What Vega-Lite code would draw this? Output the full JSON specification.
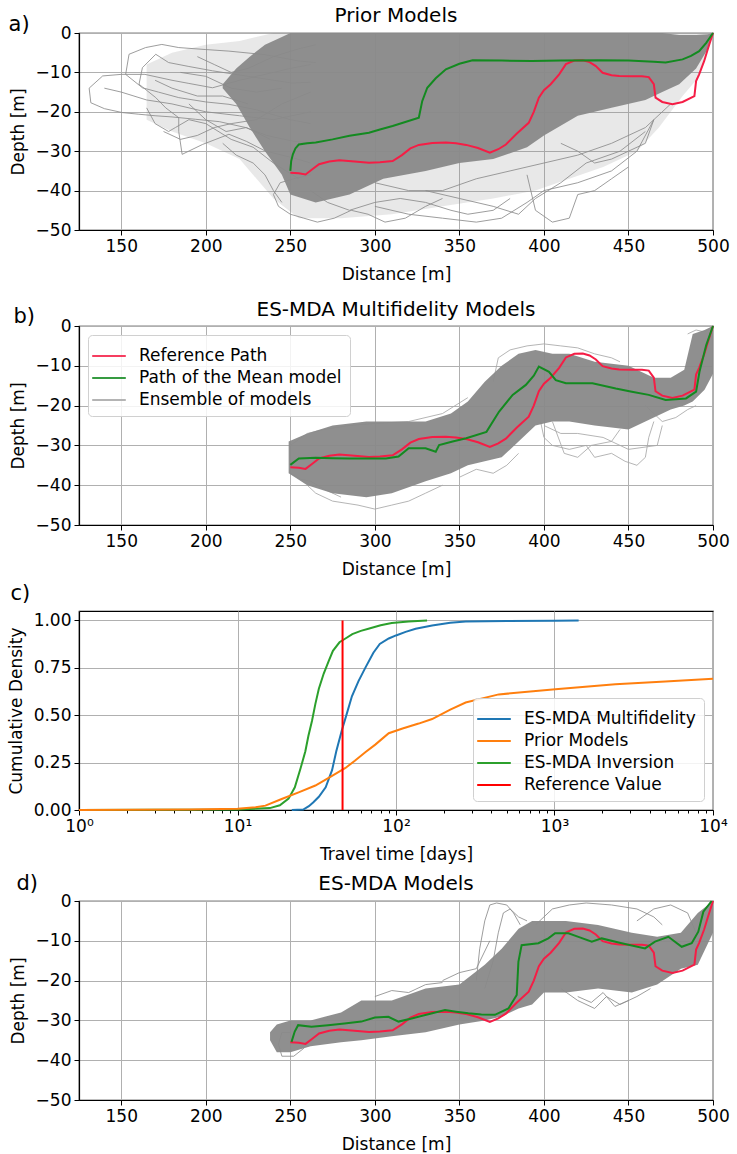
{
"$schema": "https://vega.github.io/schema/vega-lite/v6.json",
"padding": {"left": 6, "top": 5, "right": 5, "bottom": 0},
"spacing": 16,
"resolve": {"scale": {"color": "independent"}, "legend": {"color": "independent"}},
"config": {
  "font": "DejaVu Sans",
  "view": {"stroke": "#000", "strokeWidth": 1.2},
  "axis": {"domainColor": "#000", "domainWidth": 1.2, "tickColor": "#000", "tickSize": 5, "tickWidth": 1, "labelFontSize": 17, "labelColor": "#000", "labelPadding": 3, "titleFontSize": 17, "titleFontWeight": "normal", "titleColor": "#000", "gridColor": "#b0b0b0", "gridWidth": 1, "labelFlush": false, "labelOverlap": false},
  "axisX": {"titlePadding": 12},
  "axisY": {"titlePadding": 8},
  "title": {"fontSize": 20, "fontWeight": "normal", "color": "#000"},
  "legend": {"labelFontSize": 17, "labelColor": "#000", "labelLimit": 0, "symbolType": "M-1.4,0H1.4", "symbolStrokeWidth": 2, "symbolSize": 576, "fillColor": "rgba(255,255,255,0.85)", "strokeColor": "#d0d0d0", "cornerRadius": 4, "padding": 8, "rowPadding": 1, "labelOffset": 17, "offset": 9}
},
"datasets": {
  "ref": [
    {"x":250,"y":-35.5},{"x":255,"y":-35.6},{"x":259,"y":-35.9},{"x":263,"y":-34.6},{"x":267,"y":-33.3},{"x":273,"y":-32.6},{"x":279,"y":-32.3},{"x":288,"y":-32.6},{"x":296.5,"y":-32.9},{"x":303,"y":-32.8},{"x":310.5,"y":-32.5},{"x":316,"y":-31},{"x":321,"y":-29.3},{"x":326,"y":-28.4},{"x":334,"y":-27.9},{"x":342,"y":-27.8},{"x":348,"y":-28},{"x":354,"y":-28.4},{"x":361,"y":-29.2},{"x":368,"y":-30.4},{"x":373,"y":-29.5},{"x":377.5,"y":-28.3},{"x":384,"y":-25.5},{"x":391,"y":-22.8},{"x":394,"y":-20},{"x":397,"y":-16.4},{"x":400,"y":-14.5},{"x":404,"y":-13},{"x":409,"y":-10.5},{"x":413,"y":-7.9},{"x":418,"y":-7},{"x":423,"y":-6.9},{"x":427,"y":-7.4},{"x":430.7,"y":-8.4},{"x":434.7,"y":-10.1},{"x":440,"y":-10.7},{"x":444.5,"y":-10.9},{"x":452,"y":-11},{"x":458,"y":-11},{"x":462,"y":-11.2},{"x":465,"y":-13},{"x":466,"y":-16.4},{"x":470,"y":-17.5},{"x":476,"y":-18.1},{"x":482,"y":-17.5},{"x":489,"y":-16},{"x":490,"y":-12.2},{"x":491.8,"y":-10.5},{"x":494.8,"y":-7.1},{"x":497,"y":-4},{"x":500,"y":0}
  ],
  "meanA": [
    {"x":250,"y":-35},{"x":250.5,"y":-32.5},{"x":251.5,"y":-30.8},{"x":253,"y":-29.3},{"x":255,"y":-28.3},{"x":260,"y":-28},{"x":265,"y":-27.8},{"x":275,"y":-27},{"x":285,"y":-26.1},{"x":296.5,"y":-25.3},{"x":303,"y":-24.5},{"x":310.5,"y":-23.6},{"x":318,"y":-22.6},{"x":326,"y":-21.5},{"x":328,"y":-17.3},{"x":331,"y":-13.9},{"x":336,"y":-11.5},{"x":342,"y":-9.2},{"x":350,"y":-7.8},{"x":357.8,"y":-6.9},{"x":375,"y":-7},{"x":393,"y":-7.1},{"x":410,"y":-7},{"x":432.7,"y":-6.9},{"x":450,"y":-7},{"x":465,"y":-7.3},{"x":472,"y":-7.5},{"x":482,"y":-6.7},{"x":487,"y":-5.8},{"x":491.8,"y":-4.6},{"x":496,"y":-2.5},{"x":500,"y":0}
  ],
  "meanB": [
    {"x":250,"y":-34.9},{"x":255,"y":-33.3},{"x":265,"y":-33.1},{"x":275,"y":-33.2},{"x":285,"y":-33.3},{"x":295,"y":-33.3},{"x":306.5,"y":-33.3},{"x":314,"y":-32.8},{"x":320,"y":-30.7},{"x":330,"y":-30.7},{"x":336,"y":-31.6},{"x":338,"y":-29.9},{"x":346,"y":-29},{"x":354,"y":-28.2},{"x":366,"y":-26.6},{"x":373.5,"y":-21.5},{"x":381.5,"y":-17.3},{"x":389.3,"y":-14.8},{"x":394,"y":-12.5},{"x":397,"y":-10.2},{"x":403,"y":-11.5},{"x":407,"y":-13.6},{"x":413,"y":-14.4},{"x":428.7,"y":-14.4},{"x":442.5,"y":-15.7},{"x":452,"y":-16.5},{"x":462,"y":-17.3},{"x":472,"y":-18.6},{"x":484,"y":-18.2},{"x":490,"y":-16.5},{"x":492,"y":-11.5},{"x":496,"y":-4.8},{"x":500,"y":0}
  ],
  "meanD": [
    {"x":250.7,"y":-35.4},{"x":252.6,"y":-32.8},{"x":254.6,"y":-31.2},{"x":262.5,"y":-31.6},{"x":272.3,"y":-31.2},{"x":282,"y":-30.8},{"x":292,"y":-30.3},{"x":300,"y":-29.3},{"x":308,"y":-29.1},{"x":314,"y":-30.3},{"x":321.8,"y":-29.5},{"x":331,"y":-28.5},{"x":341.5,"y":-27.4},{"x":348,"y":-27.8},{"x":355.3,"y":-28.2},{"x":363,"y":-28.5},{"x":371,"y":-28.6},{"x":379,"y":-27},{"x":383.9,"y":-23.6},{"x":384.9,"y":-15.3},{"x":386.8,"y":-11.1},{"x":396.7,"y":-10.6},{"x":402.6,"y":-9.4},{"x":406.6,"y":-8.1},{"x":414.5,"y":-8.1},{"x":420.4,"y":-9},{"x":428.3,"y":-10.2},{"x":434.2,"y":-9.4},{"x":446,"y":-10.6},{"x":459.8,"y":-11.9},{"x":465.7,"y":-10.2},{"x":473.6,"y":-9},{"x":481.5,"y":-11.5},{"x":487.4,"y":-10.6},{"x":491.3,"y":-7.7},{"x":494.3,"y":-2.7},{"x":499.2,"y":0}
  ],
  "bandA": [
    {"k":"core","x":210,"y":-14,"y2":-13},{"k":"core","x":218,"y":-18,"y2":-9},{"k":"core","x":226,"y":-24,"y2":-6},{"k":"core","x":235,"y":-30,"y2":-3},{"k":"core","x":245,"y":-36,"y2":-1},{"k":"core","x":250,"y":-41,"y2":0},{"k":"core","x":265,"y":-43,"y2":0},{"k":"core","x":285,"y":-41,"y2":0},{"k":"core","x":305,"y":-37,"y2":0},{"k":"core","x":330,"y":-35,"y2":0},{"k":"core","x":350,"y":-33,"y2":0},{"k":"core","x":370,"y":-32,"y2":0},{"k":"core","x":390,"y":-29,"y2":0},{"k":"core","x":400,"y":-26,"y2":0},{"k":"core","x":420,"y":-21,"y2":0},{"k":"core","x":440,"y":-19,"y2":0},{"k":"core","x":460,"y":-17,"y2":0},{"k":"core","x":470,"y":-15,"y2":0},{"k":"core","x":480,"y":-13,"y2":-0.5},{"k":"core","x":490,"y":-9,"y2":-0.5},{"k":"core","x":497,"y":-4,"y2":-0.3},{"k":"core","x":500,"y":0,"y2":0},
    {"k":"light","x":165,"y":-22,"y2":-8},{"k":"light","x":180,"y":-25,"y2":-5},{"k":"light","x":200,"y":-28,"y2":-3},{"k":"light","x":220,"y":-32,"y2":-2},{"k":"light","x":240,"y":-42,"y2":0},{"k":"light","x":255,"y":-47,"y2":0},{"k":"light","x":280,"y":-47,"y2":0},{"k":"light","x":310,"y":-46,"y2":0},{"k":"light","x":340,"y":-44,"y2":0},{"k":"light","x":370,"y":-42,"y2":0},{"k":"light","x":395,"y":-40,"y2":0},{"k":"light","x":415,"y":-37,"y2":0},{"k":"light","x":435,"y":-34,"y2":0},{"k":"light","x":455,"y":-30,"y2":0},{"k":"light","x":468,"y":-24,"y2":0},{"k":"light","x":482,"y":-16,"y2":0},{"k":"light","x":492,"y":-11,"y2":0},{"k":"light","x":500,"y":0,"y2":0}
  ],
  "bandB": [
    {"x":249,"y":-37,"y2":-29},{"x":260,"y":-40,"y2":-27},{"x":275,"y":-42,"y2":-25},{"x":295,"y":-43,"y2":-24},{"x":310,"y":-42,"y2":-24},{"x":330,"y":-39,"y2":-24},{"x":345,"y":-37,"y2":-22},{"x":355,"y":-35,"y2":-19},{"x":365,"y":-34,"y2":-14},{"x":375,"y":-33,"y2":-10},{"x":385,"y":-29,"y2":-7},{"x":395,"y":-25,"y2":-6},{"x":405,"y":-24,"y2":-7},{"x":415,"y":-24,"y2":-7},{"x":430,"y":-25,"y2":-9},{"x":450,"y":-26,"y2":-10},{"x":465,"y":-23,"y2":-13},{"x":475,"y":-21,"y2":-13},{"x":483,"y":-20,"y2":-11},{"x":488,"y":-19,"y2":-2},{"x":495,"y":-16,"y2":-1},{"x":500,"y":-12,"y2":0}
  ],
  "bandD": [
    {"x":238,"y":-35,"y2":-33},{"x":242,"y":-38,"y2":-31},{"x":250,"y":-38,"y2":-30},{"x":262,"y":-36.5,"y2":-30},{"x":280,"y":-35.5,"y2":-28},{"x":292,"y":-35,"y2":-25},{"x":310,"y":-34,"y2":-25},{"x":330,"y":-33,"y2":-22},{"x":350,"y":-31,"y2":-21},{"x":365,"y":-30,"y2":-16},{"x":375,"y":-29,"y2":-12},{"x":385,"y":-27,"y2":-7},{"x":393,"y":-26,"y2":-5},{"x":400,"y":-23,"y2":-5},{"x":413,"y":-23,"y2":-5},{"x":432,"y":-22,"y2":-6},{"x":452,"y":-23,"y2":-8},{"x":467,"y":-21,"y2":-9},{"x":481,"y":-17,"y2":-8},{"x":491,"y":-16,"y2":-3},{"x":500,"y":-8,"y2":0}
  ],
  "ensA": [
    {"id":"A1","i":0,"x":262,"y":-8},{"id":"A1","i":1,"x":250,"y":-9},{"id":"A1","i":2,"x":240,"y":-10},{"id":"A1","i":3,"x":220,"y":-12},{"id":"A1","i":4,"x":204,"y":-13.9},{"id":"A1","i":5,"x":190,"y":-12.8},{"id":"A1","i":6,"x":180,"y":-12},{"id":"A1","i":7,"x":164,"y":-10.5},{"id":"A1","i":8,"x":150,"y":-10.5},{"id":"A1","i":9,"x":139,"y":-10.9},{"id":"A1","i":10,"x":131,"y":-14},{"id":"A1","i":11,"x":132,"y":-17.7},{"id":"A1","i":12,"x":140,"y":-19.2},{"id":"A1","i":13,"x":150.6,"y":-20.2},{"id":"A1","i":14,"x":160,"y":-20.6},{"id":"A1","i":15,"x":170,"y":-21},{"id":"A1","i":16,"x":180,"y":-21.3},{"id":"A1","i":17,"x":194,"y":-21.9},{"id":"A1","i":18,"x":208,"y":-22.5},{"id":"A1","i":19,"x":223.6,"y":-24},{"id":"A1","i":20,"x":236,"y":-26},{"id":"A1","i":21,"x":251,"y":-27.4},{"id":"A1","i":22,"x":262,"y":-28},
    {"id":"A2","i":0,"x":265,"y":-7.5},{"id":"A2","i":1,"x":255,"y":-7.1},{"id":"A2","i":2,"x":235,"y":-5.5},{"id":"A2","i":3,"x":213.7,"y":-4.6},{"id":"A2","i":4,"x":200,"y":-4.2},{"id":"A2","i":5,"x":184,"y":-3.7},{"id":"A2","i":6,"x":174,"y":-2.9},{"id":"A2","i":7,"x":164.4,"y":-3.7},{"id":"A2","i":8,"x":154.6,"y":-5.4},{"id":"A2","i":9,"x":152.6,"y":-10.5},{"id":"A2","i":10,"x":162.5,"y":-13.9},{"id":"A2","i":11,"x":172,"y":-15},{"id":"A2","i":12,"x":184,"y":-16.4},{"id":"A2","i":13,"x":200,"y":-17.5},{"id":"A2","i":14,"x":213.7,"y":-18.1},{"id":"A2","i":15,"x":230,"y":-19.5},{"id":"A2","i":16,"x":250,"y":-22},{"id":"A2","i":17,"x":262,"y":-23},
    {"id":"A3","i":0,"x":262,"y":-12.5},{"id":"A3","i":1,"x":251,"y":-12.7},{"id":"A3","i":2,"x":225,"y":-11},{"id":"A3","i":3,"x":204,"y":-9.6},{"id":"A3","i":4,"x":190,"y":-8.5},{"id":"A3","i":5,"x":178,"y":-7.5},{"id":"A3","i":6,"x":170.4,"y":-5.4},{"id":"A3","i":7,"x":162.5,"y":-8.8},{"id":"A3","i":8,"x":160.5,"y":-13},{"id":"A3","i":9,"x":170.4,"y":-16.4},{"id":"A3","i":10,"x":176.3,"y":-19},{"id":"A3","i":11,"x":184,"y":-21.5},{"id":"A3","i":12,"x":184,"y":-25},{"id":"A3","i":13,"x":186,"y":-30.8},{"id":"A3","i":14,"x":198,"y":-28.3},{"id":"A3","i":15,"x":213.7,"y":-25.7},{"id":"A3","i":16,"x":224,"y":-27.5},{"id":"A3","i":17,"x":235.4,"y":-30},{"id":"A3","i":18,"x":251,"y":-31.6},{"id":"A3","i":19,"x":262,"y":-33},
    {"id":"A4","i":0,"x":140,"y":-14},{"id":"A4","i":1,"x":150,"y":-15},{"id":"A4","i":2,"x":165,"y":-17},{"id":"A4","i":3,"x":180,"y":-18},{"id":"A4","i":4,"x":200,"y":-20},{"id":"A4","i":5,"x":220,"y":-21},{"id":"A4","i":6,"x":240,"y":-22},{"id":"A4","i":7,"x":262,"y":-20},
    {"id":"A5","i":0,"x":175,"y":-25},{"id":"A5","i":1,"x":185,"y":-27},{"id":"A5","i":2,"x":195,"y":-26},{"id":"A5","i":3,"x":205,"y":-24},{"id":"A5","i":4,"x":215,"y":-23},{"id":"A5","i":5,"x":230,"y":-22},{"id":"A5","i":6,"x":245,"y":-18},{"id":"A5","i":7,"x":262,"y":-15},
    {"id":"A6","i":0,"x":195,"y":-6},{"id":"A6","i":1,"x":205,"y":-8},{"id":"A6","i":2,"x":215,"y":-10},{"id":"A6","i":3,"x":225,"y":-9},{"id":"A6","i":4,"x":240,"y":-6},{"id":"A6","i":5,"x":255,"y":-4},{"id":"A6","i":6,"x":265,"y":-3},
    {"id":"A7","i":0,"x":165,"y":-19},{"id":"A7","i":1,"x":170,"y":-23},{"id":"A7","i":2,"x":178,"y":-25},{"id":"A7","i":3,"x":182,"y":-24},{"id":"A7","i":4,"x":190,"y":-22},{"id":"A7","i":5,"x":200,"y":-23},{"id":"A7","i":6,"x":215,"y":-27},{"id":"A7","i":7,"x":228,"y":-29},{"id":"A7","i":8,"x":240,"y":-33},{"id":"A7","i":9,"x":255,"y":-37},
    {"id":"A8","i":0,"x":262,"y":-36},{"id":"A8","i":1,"x":252,"y":-37},{"id":"A8","i":2,"x":244,"y":-38},{"id":"A8","i":3,"x":240,"y":-41},{"id":"A8","i":4,"x":243,"y":-44},{"id":"A8","i":5,"x":250,"y":-46},{"id":"A8","i":6,"x":258,"y":-47},{"id":"A8","i":7,"x":266,"y":-48},{"id":"A8","i":8,"x":276,"y":-47},{"id":"A8","i":9,"x":286,"y":-45},{"id":"A8","i":10,"x":296,"y":-46},{"id":"A8","i":11,"x":306,"y":-48},{"id":"A8","i":12,"x":318,"y":-47},{"id":"A8","i":13,"x":330,"y":-44},{"id":"A8","i":14,"x":340,"y":-42},
    {"id":"A9","i":0,"x":262,"y":-40},{"id":"A9","i":1,"x":272,"y":-43},{"id":"A9","i":2,"x":285,"y":-45},{"id":"A9","i":3,"x":300,"y":-43},{"id":"A9","i":4,"x":315,"y":-42},{"id":"A9","i":5,"x":330,"y":-43},{"id":"A9","i":6,"x":345,"y":-45},{"id":"A9","i":7,"x":355,"y":-46},{"id":"A9","i":8,"x":370,"y":-45},{"id":"A9","i":9,"x":380,"y":-42},
    {"id":"A10","i":0,"x":300,"y":-44},{"id":"A10","i":1,"x":320,"y":-46},{"id":"A10","i":2,"x":340,"y":-47},{"id":"A10","i":3,"x":360,"y":-48},{"id":"A10","i":4,"x":375,"y":-47},{"id":"A10","i":5,"x":390,"y":-43},{"id":"A10","i":6,"x":400,"y":-40},{"id":"A10","i":7,"x":420,"y":-38},{"id":"A10","i":8,"x":440,"y":-35},{"id":"A10","i":9,"x":455,"y":-30},{"id":"A10","i":10,"x":465,"y":-22},
    {"id":"A11","i":0,"x":330,"y":-40},{"id":"A11","i":1,"x":350,"y":-42},{"id":"A11","i":2,"x":370,"y":-44},{"id":"A11","i":3,"x":385,"y":-46},{"id":"A11","i":4,"x":395,"y":-42},{"id":"A11","i":5,"x":410,"y":-38},{"id":"A11","i":6,"x":425,"y":-33},{"id":"A11","i":7,"x":445,"y":-30},{"id":"A11","i":8,"x":460,"y":-25},
    {"id":"A12","i":0,"x":300,"y":-38},{"id":"A12","i":1,"x":320,"y":-40},{"id":"A12","i":2,"x":340,"y":-40},{"id":"A12","i":3,"x":360,"y":-37},{"id":"A12","i":4,"x":380,"y":-35},{"id":"A12","i":5,"x":400,"y":-33},{"id":"A12","i":6,"x":420,"y":-31},{"id":"A12","i":7,"x":440,"y":-28},{"id":"A12","i":8,"x":460,"y":-24},{"id":"A12","i":9,"x":475,"y":-18},
    {"id":"A13","i":0,"x":390,"y":-36},{"id":"A13","i":1,"x":395,"y":-45},{"id":"A13","i":2,"x":405,"y":-48},{"id":"A13","i":3,"x":415,"y":-47},{"id":"A13","i":4,"x":420,"y":-41},{"id":"A13","i":5,"x":430,"y":-40},{"id":"A13","i":6,"x":440,"y":-37},{"id":"A13","i":7,"x":450,"y":-34},
    {"id":"A14","i":0,"x":410,"y":-28},{"id":"A14","i":1,"x":420,"y":-30},{"id":"A14","i":2,"x":430,"y":-33},{"id":"A14","i":3,"x":440,"y":-32},{"id":"A14","i":4,"x":450,"y":-30},{"id":"A14","i":5,"x":460,"y":-28},{"id":"A14","i":6,"x":465,"y":-22},
    {"id":"A15","i":0,"x":185,"y":-10},{"id":"A15","i":1,"x":200,"y":-11},{"id":"A15","i":2,"x":215,"y":-14},{"id":"A15","i":3,"x":230,"y":-15},{"id":"A15","i":4,"x":245,"y":-14},
    {"id":"A16","i":0,"x":170,"y":-12},{"id":"A16","i":1,"x":180,"y":-14},{"id":"A16","i":2,"x":195,"y":-16},{"id":"A16","i":3,"x":210,"y":-16},{"id":"A16","i":4,"x":225,"y":-18},
    {"id":"A17","i":0,"x":190,"y":-18},{"id":"A17","i":1,"x":200,"y":-22},{"id":"A17","i":2,"x":212,"y":-25},{"id":"A17","i":3,"x":224,"y":-24},{"id":"A17","i":4,"x":238,"y":-27},
    {"id":"A18","i":0,"x":210,"y":-28},{"id":"A18","i":1,"x":218,"y":-31},{"id":"A18","i":2,"x":228,"y":-33},{"id":"A18","i":3,"x":235,"y":-36},{"id":"A18","i":4,"x":240,"y":-40},{"id":"A18","i":5,"x":245,"y":-43}
  ],
  "ensB": [
    {"id":"B1","i":0,"x":398,"y":-24},{"id":"B1","i":1,"x":400,"y":-28},{"id":"B1","i":2,"x":405,"y":-30},{"id":"B1","i":3,"x":415,"y":-31},{"id":"B1","i":4,"x":425,"y":-30},{"id":"B1","i":5,"x":430,"y":-33},{"id":"B1","i":6,"x":440,"y":-32},{"id":"B1","i":7,"x":448,"y":-34},{"id":"B1","i":8,"x":455,"y":-35},{"id":"B1","i":9,"x":460,"y":-33},{"id":"B1","i":10,"x":462,"y":-28},{"id":"B1","i":11,"x":465,"y":-24},
    {"id":"B2","i":0,"x":400,"y":-25},{"id":"B2","i":1,"x":410,"y":-27},{"id":"B2","i":2,"x":420,"y":-27},{"id":"B2","i":3,"x":435,"y":-28},{"id":"B2","i":4,"x":450,"y":-31},{"id":"B2","i":5,"x":467,"y":-30},{"id":"B2","i":6,"x":470,"y":-25},
    {"id":"B3","i":0,"x":405,"y":-24},{"id":"B3","i":1,"x":412,"y":-32},{"id":"B3","i":2,"x":420,"y":-33},{"id":"B3","i":3,"x":428,"y":-30},{"id":"B3","i":4,"x":440,"y":-29},{"id":"B3","i":5,"x":445,"y":-26},
    {"id":"B4","i":0,"x":370,"y":-14},{"id":"B4","i":1,"x":373,"y":-8},{"id":"B4","i":2,"x":380,"y":-6},{"id":"B4","i":3,"x":390,"y":-5},{"id":"B4","i":4,"x":400,"y":-4.5},{"id":"B4","i":5,"x":410,"y":-5},{"id":"B4","i":6,"x":420,"y":-5.5},{"id":"B4","i":7,"x":430,"y":-7},{"id":"B4","i":8,"x":440,"y":-8},{"id":"B4","i":9,"x":445,"y":-9},
    {"id":"B5","i":0,"x":260,"y":-40},{"id":"B5","i":1,"x":265,"y":-42},{"id":"B5","i":2,"x":275,"y":-44},{"id":"B5","i":3,"x":290,"y":-45},{"id":"B5","i":4,"x":300,"y":-46},{"id":"B5","i":5,"x":310,"y":-45},{"id":"B5","i":6,"x":320,"y":-44},{"id":"B5","i":7,"x":330,"y":-42},{"id":"B5","i":8,"x":340,"y":-40},
    {"id":"B6","i":0,"x":250,"y":-30},{"id":"B6","i":1,"x":260,"y":-27},{"id":"B6","i":2,"x":270,"y":-26},{"id":"B6","i":3,"x":285,"y":-25},{"id":"B6","i":4,"x":300,"y":-24.5},{"id":"B6","i":5,"x":320,"y":-24},{"id":"B6","i":6,"x":340,"y":-22},{"id":"B6","i":7,"x":355,"y":-18},
    {"id":"B7","i":0,"x":250,"y":-37},{"id":"B7","i":1,"x":256,"y":-38.5},{"id":"B7","i":2,"x":262,"y":-39},{"id":"B7","i":3,"x":270,"y":-41},{"id":"B7","i":4,"x":280,"y":-43},
    {"id":"B8","i":0,"x":350,"y":-38},{"id":"B8","i":1,"x":360,"y":-36},{"id":"B8","i":2,"x":370,"y":-37},{"id":"B8","i":3,"x":378,"y":-35},{"id":"B8","i":4,"x":385,"y":-32},
    {"id":"B9","i":0,"x":460,"y":-20},{"id":"B9","i":1,"x":470,"y":-24},{"id":"B9","i":2,"x":478,"y":-23},{"id":"B9","i":3,"x":485,"y":-21},{"id":"B9","i":4,"x":490,"y":-20},
    {"id":"B10","i":0,"x":485,"y":-2},{"id":"B10","i":1,"x":490,"y":-1},{"id":"B10","i":2,"x":495,"y":-1.5},{"id":"B10","i":3,"x":500,"y":0}
  ],
  "ensD": [
    {"id":"D1","i":0,"x":360,"y":-20},{"id":"D1","i":1,"x":362,"y":-12},{"id":"D1","i":2,"x":365,"y":-5},{"id":"D1","i":3,"x":368,"y":-1},{"id":"D1","i":4,"x":372,"y":-0.5},{"id":"D1","i":5,"x":378,"y":-1},{"id":"D1","i":6,"x":382,"y":-3},{"id":"D1","i":7,"x":386,"y":-6},
    {"id":"D2","i":0,"x":365,"y":-22},{"id":"D2","i":1,"x":370,"y":-15},{"id":"D2","i":2,"x":373,"y":-8},{"id":"D2","i":3,"x":376,"y":-3},{"id":"D2","i":4,"x":380,"y":-2},{"id":"D2","i":5,"x":385,"y":-4},{"id":"D2","i":6,"x":390,"y":-5},
    {"id":"D3","i":0,"x":395,"y":-6},{"id":"D3","i":1,"x":405,"y":-2},{"id":"D3","i":2,"x":415,"y":-1},{"id":"D3","i":3,"x":425,"y":-0.5},{"id":"D3","i":4,"x":440,"y":-1},{"id":"D3","i":5,"x":455,"y":-2},{"id":"D3","i":6,"x":465,"y":-4},{"id":"D3","i":7,"x":470,"y":-6},
    {"id":"D4","i":0,"x":455,"y":-5},{"id":"D4","i":1,"x":465,"y":-2},{"id":"D4","i":2,"x":475,"y":-1},{"id":"D4","i":3,"x":485,"y":-3},{"id":"D4","i":4,"x":490,"y":-8},
    {"id":"D5","i":0,"x":410,"y":-22},{"id":"D5","i":1,"x":420,"y":-25},{"id":"D5","i":2,"x":430,"y":-27},{"id":"D5","i":3,"x":437,"y":-24},{"id":"D5","i":4,"x":445,"y":-26},{"id":"D5","i":5,"x":455,"y":-24},{"id":"D5","i":6,"x":463,"y":-22},
    {"id":"D6","i":0,"x":340,"y":-20},{"id":"D6","i":1,"x":350,"y":-18},{"id":"D6","i":2,"x":360,"y":-17},{"id":"D6","i":3,"x":368,"y":-10},
    {"id":"D7","i":0,"x":250,"y":-33},{"id":"D7","i":1,"x":245,"y":-33},{"id":"D7","i":2,"x":243,"y":-36},{"id":"D7","i":3,"x":245,"y":-39},{"id":"D7","i":4,"x":252,"y":-39},{"id":"D7","i":5,"x":258,"y":-37},
    {"id":"D8","i":0,"x":300,"y":-24},{"id":"D8","i":1,"x":310,"y":-22.5},{"id":"D8","i":2,"x":320,"y":-23},{"id":"D8","i":3,"x":330,"y":-21},{"id":"D8","i":4,"x":340,"y":-20.5},
    {"id":"D9","i":0,"x":420,"y":-24},{"id":"D9","i":1,"x":428,"y":-25.5},{"id":"D9","i":2,"x":435,"y":-23},{"id":"D9","i":3,"x":442,"y":-26.5},{"id":"D9","i":4,"x":450,"y":-25}
  ],
  "cdf": [
    {"s":"ES-MDA Inversion","t":1,"v":0},{"s":"ES-MDA Inversion","t":10,"v":0.003},{"s":"ES-MDA Inversion","t":16,"v":0.01},{"s":"ES-MDA Inversion","t":18.5,"v":0.025},{"s":"ES-MDA Inversion","t":21,"v":0.06},{"s":"ES-MDA Inversion","t":23,"v":0.12},{"s":"ES-MDA Inversion","t":25,"v":0.22},{"s":"ES-MDA Inversion","t":26.8,"v":0.31},{"s":"ES-MDA Inversion","t":28,"v":0.39},{"s":"ES-MDA Inversion","t":29.5,"v":0.47},{"s":"ES-MDA Inversion","t":31,"v":0.56},{"s":"ES-MDA Inversion","t":32.6,"v":0.64},{"s":"ES-MDA Inversion","t":35,"v":0.72},{"s":"ES-MDA Inversion","t":37.6,"v":0.785},{"s":"ES-MDA Inversion","t":40,"v":0.84},{"s":"ES-MDA Inversion","t":44,"v":0.885},{"s":"ES-MDA Inversion","t":48,"v":0.905},{"s":"ES-MDA Inversion","t":53,"v":0.928},{"s":"ES-MDA Inversion","t":60,"v":0.945},{"s":"ES-MDA Inversion","t":67,"v":0.956},{"s":"ES-MDA Inversion","t":80,"v":0.975},{"s":"ES-MDA Inversion","t":94,"v":0.987},{"s":"ES-MDA Inversion","t":120,"v":0.995},{"s":"ES-MDA Inversion","t":157,"v":1.0},
    {"s":"ES-MDA Multifidelity","t":22,"v":0},{"s":"ES-MDA Multifidelity","t":26,"v":0.002},{"s":"ES-MDA Multifidelity","t":28.2,"v":0.02},{"s":"ES-MDA Multifidelity","t":30,"v":0.04},{"s":"ES-MDA Multifidelity","t":32.6,"v":0.07},{"s":"ES-MDA Multifidelity","t":36,"v":0.12},{"s":"ES-MDA Multifidelity","t":39.5,"v":0.21},{"s":"ES-MDA Multifidelity","t":42,"v":0.31},{"s":"ES-MDA Multifidelity","t":45.5,"v":0.42},{"s":"ES-MDA Multifidelity","t":49,"v":0.51},{"s":"ES-MDA Multifidelity","t":52.7,"v":0.6},{"s":"ES-MDA Multifidelity","t":58,"v":0.68},{"s":"ES-MDA Multifidelity","t":64,"v":0.75},{"s":"ES-MDA Multifidelity","t":72,"v":0.83},{"s":"ES-MDA Multifidelity","t":79,"v":0.876},{"s":"ES-MDA Multifidelity","t":90,"v":0.905},{"s":"ES-MDA Multifidelity","t":100,"v":0.921},{"s":"ES-MDA Multifidelity","t":115,"v":0.94},{"s":"ES-MDA Multifidelity","t":133,"v":0.956},{"s":"ES-MDA Multifidelity","t":169,"v":0.973},{"s":"ES-MDA Multifidelity","t":220,"v":0.988},{"s":"ES-MDA Multifidelity","t":275,"v":0.995},{"s":"ES-MDA Multifidelity","t":500,"v":0.997},{"s":"ES-MDA Multifidelity","t":1000,"v":0.998},{"s":"ES-MDA Multifidelity","t":1420,"v":1.0},
    {"s":"Prior Models","t":1,"v":0},{"s":"Prior Models","t":5,"v":0.002},{"s":"Prior Models","t":10,"v":0.006},{"s":"Prior Models","t":13,"v":0.014},{"s":"Prior Models","t":15,"v":0.023},{"s":"Prior Models","t":19,"v":0.058},{"s":"Prior Models","t":24.3,"v":0.093},{"s":"Prior Models","t":31,"v":0.129},{"s":"Prior Models","t":39.5,"v":0.18},{"s":"Prior Models","t":48,"v":0.222},{"s":"Prior Models","t":55,"v":0.26},{"s":"Prior Models","t":64,"v":0.305},{"s":"Prior Models","t":74,"v":0.345},{"s":"Prior Models","t":90,"v":0.405},{"s":"Prior Models","t":110,"v":0.43},{"s":"Prior Models","t":139,"v":0.456},{"s":"Prior Models","t":169,"v":0.48},{"s":"Prior Models","t":220,"v":0.53},{"s":"Prior Models","t":275,"v":0.567},{"s":"Prior Models","t":445,"v":0.61},{"s":"Prior Models","t":1013,"v":0.637},{"s":"Prior Models","t":2420,"v":0.663},{"s":"Prior Models","t":5000,"v":0.678},{"s":"Prior Models","t":10000,"v":0.692}
  ],
  "refval": [{"s":"Reference Value","t":46,"v":0,"v2":1}]
},
"vconcat": [
  {
    "title": {"text": "a)", "anchor": "start", "fontSize": 21, "offset": -30},
    "resolve": {"legend": {"color": "independent"}},
    "vconcat": [{
      "width": 634, "height": 197,
      "title": {"text": "Prior Models", "frame": "group", "anchor": "middle", "offset": -2},
      "encoding": {
        "x": {"field": "x", "type": "quantitative", "scale": {"domain": [125, 500], "nice": false, "zero": false}, "axis": {"title": "Distance [m]", "values": [150, 200, 250, 300, 350, 400, 450, 500]}},
        "y": {"field": "y", "type": "quantitative", "scale": {"domain": [-50, 0], "nice": false, "zero": false}, "axis": {"title": "Depth [m]", "values": [0, -10, -20, -30, -40, -50]}}
      },
      "layer": [
        {"data": {"name": "bandA"}, "transform": [{"filter": "datum.k === 'light'"}], "mark": {"type": "area", "color": "#8c8c8c", "opacity": 0.2}, "encoding": {"y2": {"field": "y2"}}},
        {"data": {"name": "ensA"}, "mark": {"type": "line", "color": "#8c8c8c", "strokeWidth": 1, "opacity": 0.85}, "encoding": {"detail": {"field": "id"}, "order": {"field": "i", "type": "quantitative"}}},
        {"data": {"name": "bandA"}, "transform": [{"filter": "datum.k === 'core'"}], "mark": {"type": "area", "color": "#898989", "opacity": 0.95}, "encoding": {"y2": {"field": "y2"}}},
        {"data": {"name": "ref"}, "mark": {"type": "line", "color": "#f51d45", "strokeWidth": 2}, "encoding": {}},
        {"data": {"name": "meanA"}, "mark": {"type": "line", "color": "#138a20", "strokeWidth": 2}, "encoding": {}}
      ]
    }]
  },
  {
    "spacing": 5,
    "resolve": {"scale": {"color": "independent"}, "legend": {"color": "independent"}},
    "vconcat": [
      {
        "title": {"text": "b)", "anchor": "start", "fontSize": 21, "offset": -28, "dx": 5},
        "resolve": {"legend": {"color": "independent"}},
        "vconcat": [{
          "width": 634, "height": 199,
          "title": {"text": "ES-MDA Multifidelity Models", "frame": "group", "anchor": "middle", "offset": -3},
          "encoding": {
            "x": {"field": "x", "type": "quantitative", "scale": {"domain": [125, 500], "nice": false, "zero": false}, "axis": {"title": "Distance [m]", "values": [150, 200, 250, 300, 350, 400, 450, 500]}},
            "y": {"field": "y", "type": "quantitative", "scale": {"domain": [-50, 0], "nice": false, "zero": false}, "axis": {"title": "Depth [m]", "values": [0, -10, -20, -30, -40, -50]}}
          },
          "layer": [
            {"data": {"name": "ensB"}, "mark": {"type": "line", "strokeWidth": 1, "opacity": 0.85}, "encoding": {"detail": {"field": "id"}, "order": {"field": "i", "type": "quantitative"}, "color": {"datum": "Ensemble of models", "scale": {"domain": ["Reference Path", "Path of the Mean model", "Ensemble of models"], "range": ["#f51d45", "#138a20", "#a8a8a8"]}, "legend": {"orient": "top-left", "title": null}}}},
            {"data": {"name": "bandB"}, "mark": {"type": "area", "color": "#898989", "opacity": 0.95}, "encoding": {"y2": {"field": "y2"}}},
            {"data": {"name": "ref"}, "mark": {"type": "line", "strokeWidth": 2}, "encoding": {"color": {"datum": "Reference Path"}}},
            {"data": {"name": "meanB"}, "mark": {"type": "line", "strokeWidth": 2}, "encoding": {"color": {"datum": "Path of the Mean model"}}}
          ]
        }]
      },
      {
        "spacing": 10,
        "resolve": {"scale": {"color": "independent"}, "legend": {"color": "independent"}},
        "vconcat": [
          {
            "title": {"text": "c)", "anchor": "start", "fontSize": 21, "offset": 6, "dx": 4},
            "resolve": {"legend": {"color": "independent"}},
            "vconcat": [{
              "width": 634, "height": 199,
              "resolve": {"axis": {"x": "independent"}},
              "layer": [
                {"data": {"name": "cdf"}, "mark": {"type": "line", "strokeWidth": 2}, "encoding": {
                  "x": {"field": "t", "type": "quantitative", "scale": {"type": "log", "domain": [1, 10000], "nice": false}, "axis": {"orient": "bottom", "title": "Travel time [days]", "values": [1, 10, 100, 1000, 10000], "labelExpr": "'10' + ['⁰','¹','²','³','⁴'][round(log(datum.value)/LN10)]"}},
                  "y": {"field": "v", "type": "quantitative", "scale": {"domain": [0, 1.05], "nice": false, "zero": false}, "axis": {"title": "Cumulative Density", "values": [0, 0.25, 0.5, 0.75, 1], "format": ".2f"}},
                  "color": {"field": "s", "type": "nominal", "scale": {"domain": ["ES-MDA Multifidelity", "Prior Models", "ES-MDA Inversion", "Reference Value"], "range": ["#1f77b4", "#ff7f0e", "#2ca02c", "#ff0000"]}, "legend": {"orient": "bottom-right", "title": null}}}},
                {"data": {"name": "refval"}, "mark": {"type": "rule", "strokeWidth": 2}, "encoding": {
                  "x": {"field": "t", "type": "quantitative", "axis": null},
                  "y": {"field": "v", "type": "quantitative"},
                  "y2": {"field": "v2"},
                  "color": {"field": "s", "type": "nominal"}}},
                {"data": {"name": "refval"}, "mark": {"type": "point", "opacity": 0}, "encoding": {
                  "x": {"field": "t", "type": "quantitative", "axis": {"orient": "bottom", "title": null, "labels": false, "grid": false, "domain": false, "tickSize": 3, "values": [2,3,4,5,6,7,8,9,20,30,40,50,60,70,80,90,200,300,400,500,600,700,800,900,2000,3000,4000,5000,6000,7000,8000,9000]}},
                  "y": {"field": "v", "type": "quantitative"}}}
              ]
            }]
          },
          {
            "title": {"text": "d)", "anchor": "start", "fontSize": 21, "offset": -21, "dx": 8},
            "resolve": {"legend": {"color": "independent"}},
            "vconcat": [{
              "width": 634, "height": 199,
              "title": {"text": "ES-MDA Models", "frame": "group", "anchor": "middle", "offset": -2},
              "encoding": {
                "x": {"field": "x", "type": "quantitative", "scale": {"domain": [125, 500], "nice": false, "zero": false}, "axis": {"title": "Distance [m]", "values": [150, 200, 250, 300, 350, 400, 450, 500]}},
                "y": {"field": "y", "type": "quantitative", "scale": {"domain": [-50, 0], "nice": false, "zero": false}, "axis": {"title": "Depth [m]", "values": [0, -10, -20, -30, -40, -50]}}
              },
              "layer": [
                {"data": {"name": "ensD"}, "mark": {"type": "line", "color": "#8c8c8c", "strokeWidth": 1, "opacity": 0.85}, "encoding": {"detail": {"field": "id"}, "order": {"field": "i", "type": "quantitative"}}},
                {"data": {"name": "bandD"}, "mark": {"type": "area", "color": "#898989", "opacity": 0.95}, "encoding": {"y2": {"field": "y2"}}},
                {"data": {"name": "ref"}, "mark": {"type": "line", "color": "#f51d45", "strokeWidth": 2}, "encoding": {}},
                {"data": {"name": "meanD"}, "mark": {"type": "line", "color": "#138a20", "strokeWidth": 2}, "encoding": {}}
              ]
            }]
          }
        ]
      }
    ]
  }
]
}
